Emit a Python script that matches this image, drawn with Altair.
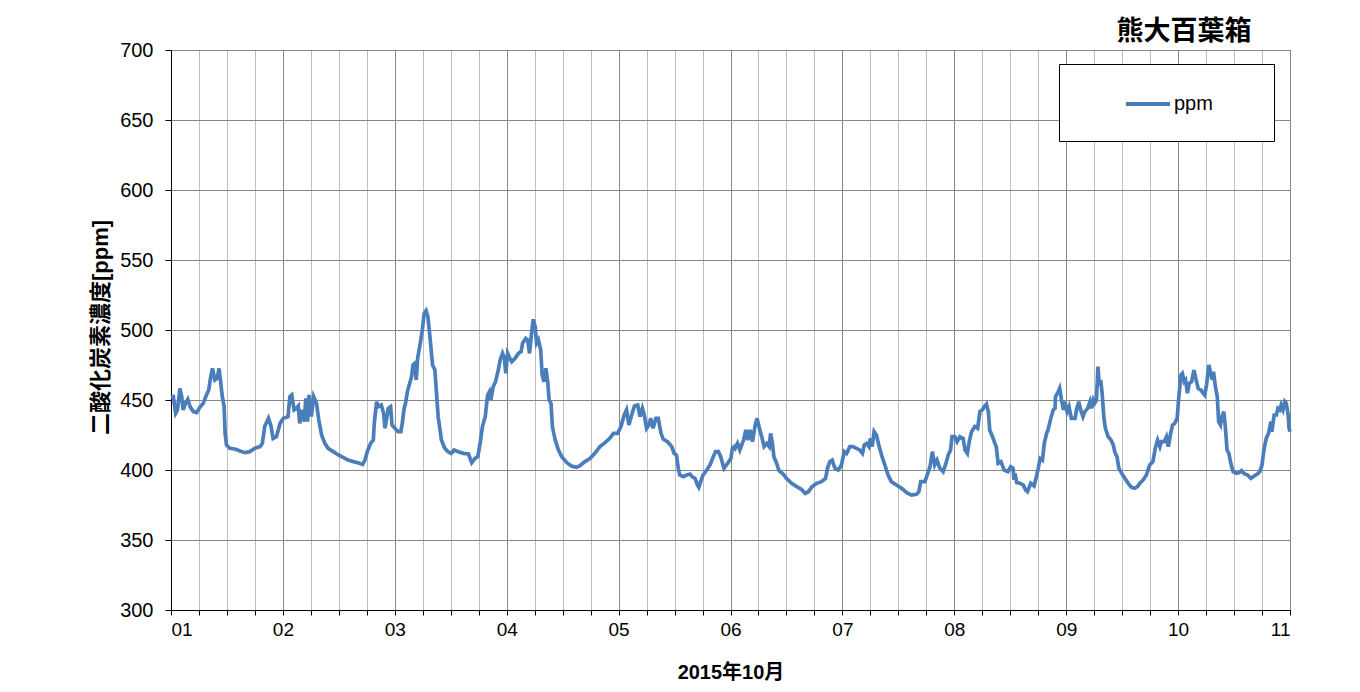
import altair as alt
import pandas as pd

# --- CO2 readings (hours since 2015-10-01 00:00, ppm) ---
seg1_hours = [0, 0.5, 1.0, 1.4, 1.9, 2.3, 2.6, 3.1, 3.6, 4.1, 4.8, 5.5, 6.2, 6.9, 7.6, 8.1, 8.4, 8.9,
              9.4, 9.9, 10.3, 10.6, 11.0, 11.4, 11.6, 11.9, 12.6, 13.7, 14.8, 15.9, 16.9, 18.0, 19.1,
              19.6, 20.1, 20.9, 21.4, 21.9, 22.6, 23.4, 24.1, 25.1, 25.5, 25.9, 26.4, 26.9, 27.3, 27.6,
              28.1, 28.6, 28.9, 29.3, 29.6, 30.1, 30.6, 31.2, 31.7, 32.3, 33.0, 33.7, 34.8, 35.9, 36.9,
              38.0, 39.1, 40.1, 41.1, 41.6, 42.1, 42.8, 43.4, 43.6, 44.1, 44.4, 45.1, 45.6, 45.9, 46.2,
              46.6, 47.1, 47.4, 48.0, 48.7, 49.3, 49.6, 50.0, 50.3, 50.7, 51.2, 51.6, 51.9, 52.3, 52.6,
              52.9, 53.4, 53.9, 54.3, 54.7, 55.1, 55.6, 56.1, 56.6, 56.9, 57.3, 57.6, 58.0, 58.7, 59.4,
              60.1, 60.7]
seg1_ppm = [452, 452.4, 440.5, 442.9, 458.3, 452.4, 442.9, 447.6, 450.5, 445.2, 441.7, 441.0, 444.8,
            447.6, 453.6, 457.1, 464.3, 472.6, 464.3, 465.5, 472.6, 464.3, 452.4, 445.2, 426.2, 417.9,
            415.5, 415.0, 413.6, 412.4, 413.1, 415.5, 416.7, 419.0, 431.0, 436.9, 432.1, 422.6, 423.8,
            433.3, 436.9, 438.1, 452.4, 453.6, 442.9, 444.0, 445.7, 433.3, 442.9, 434.5, 451.2, 434.5,
            453.6, 438.1, 452.4, 447.6, 435.7, 425.0, 419.0, 415.5, 413.1, 410.7, 409.0, 407.1, 406.0,
            405.2, 404.0, 407.1, 413.1, 419.0, 421.4, 433.3, 448.8, 445.2, 446.4, 440.5, 429.8, 435.7,
            444.0, 445.2, 432.1, 429.8, 427.4, 427.4, 433.3, 444.0, 447.6, 456.0, 461.9, 466.7, 475.0,
            476.2, 464.3, 479.8, 489.3, 500.0, 511.9, 513.8, 509.5, 492.9, 475.0, 471.4, 457.1, 438.1,
            431.0, 421.4, 415.5, 413.1, 411.9, 414.3]

seg2_hours = [61.6, 62.7, 63.8, 64.5, 65.2, 65.8, 66.3, 66.8, 67.4, 67.9, 68.3, 68.6, 69.1, 69.6, 70.2,
              70.6, 71.1, 71.5, 71.8, 72.2, 72.7, 73.1, 73.8, 74.5, 75.1, 75.4, 76.1, 76.5, 76.9, 77.4,
              77.7, 78.1, 78.4, 78.8, 79.3, 79.6, 80.0, 80.4, 80.8, 81.1, 81.5, 81.8, 82.4, 83.1, 83.8,
              84.9, 85.9, 87.0, 87.7, 88.8, 89.9, 90.9, 92.0, 93.1, 94.1, 94.9, 95.8, 96.5, 97.2, 97.7,
              98.2, 98.8, 99.4, 100.1, 100.6, 101.1, 101.5, 102.0, 102.5, 102.9, 103.4, 104.0, 104.5,
              105.1, 105.6, 106.5, 107.4, 107.9, 108.4, 108.8, 109.1, 109.9, 110.6, 111.3, 111.8, 112.4,
              112.9, 113.2, 113.6, 114.1, 114.9, 115.6, 116.3, 116.8, 117.4, 117.9, 118.6, 119.4, 120.1,
              120.4, 120.8]
seg2_ppm = [413.1, 411.9, 411.4, 405.2, 408.3, 409.5, 419.0, 431.0, 438.1, 453.6, 456.0, 450.0, 459.5,
            463.1, 471.4, 478.6, 483.3, 479.8, 469.0, 483.3, 479.8, 477.4, 479.8, 483.3, 484.5, 490.5,
            494.0, 492.9, 483.3, 500.0, 507.6, 502.4, 490.5, 492.9, 485.7, 467.9, 463.1, 472.6, 463.1,
            450.0, 447.6, 431.0, 421.4, 414.3, 409.5, 405.2, 402.9, 401.9, 403.1, 406.0, 408.3, 411.9,
            416.7, 419.5, 422.6, 426.2, 426.2, 431.0, 439.3, 442.9, 432.1, 439.3, 445.7, 446.4, 438.1,
            444.0, 439.3, 429.8, 432.1, 436.9, 429.8, 436.9, 436.9, 426.2, 421.9, 420.2, 416.7, 411.9,
            410.7, 401.2, 396.4, 395.2, 396.4, 397.1, 395.2, 394.0, 389.3, 387.6, 391.7, 396.4, 400.0,
            403.6, 409.5, 413.1, 413.1, 409.5, 401.2, 404.8, 408.3, 415.5, 416.7]

seg3_hours = [121.0, 121.5, 122.0, 122.8, 123.3, 123.7, 124.2, 124.7, 125.3, 125.7, 126.2, 126.7, 127.2,
              127.8, 128.3, 128.6, 129.0, 129.3, 129.9, 130.4, 131.3, 132.0, 133.1, 134.2, 135.2, 136.0,
              136.7, 137.5, 138.5, 139.5, 140.4, 140.8, 141.3, 141.8, 142.4, 143.1, 143.8, 144.4, 144.9,
              145.6, 146.3, 147.0, 147.7, 148.3, 148.7, 149.2, 149.7, 150.0, 150.4, 150.8, 151.3, 151.8,
              152.4, 153.1, 153.8, 154.5, 155.6, 156.7, 157.8, 158.8, 159.9, 160.4, 160.8, 161.7, 162.3,
              162.8, 163.3, 163.8, 164.3, 164.9, 165.6, 166.2, 166.7, 167.2, 167.5, 168.1, 168.6, 169.2,
              169.9, 170.3, 170.8, 171.2, 171.7, 172.4, 173.0, 173.5, 174.0, 174.4, 174.9, 175.3, 175.6,
              176.2, 176.7, 177.0, 177.4, 178.0, 178.7, 179.5, 180.1, 180.6, 180.8]
seg3_ppm = [415.5, 419.0, 414.3, 421.4, 428.6, 421.4, 428.6, 420.2, 432.1, 436.9, 429.8, 423.8, 416.7,
            419.0, 416.7, 426.2, 419.0, 409.5, 404.8, 399.5, 397.1, 394.0, 390.5, 388.1, 386.2, 383.3,
            384.5, 388.1, 390.5, 391.7, 394.0, 401.2, 406.0, 407.1, 401.2, 400.0, 403.6, 413.1, 411.9,
            416.7, 416.7, 415.5, 414.3, 411.9, 417.9, 419.0, 416.7, 422.6, 416.7, 427.4, 425.0, 417.9,
            410.7, 403.6, 396.4, 391.7, 389.3, 386.9, 383.8, 382.1, 382.6, 384.5, 391.7, 391.7, 397.6,
            402.4, 413.1, 403.6, 407.1, 401.2, 398.8, 404.8, 410.7, 414.3, 423.8, 423.8, 420.2, 423.8,
            422.6, 414.3, 411.9, 420.2, 427.4, 431.0, 429.8, 441.7, 442.9, 445.2, 447.1, 441.7, 428.6,
            423.8, 419.0, 416.7, 404.8, 406.0, 400.0, 398.8, 402.4, 401.2, 392.9]

seg4_hours = [181.0, 181.4, 182.1, 182.8, 183.3, 183.7, 184.4, 185.1, 185.6, 186.0, 186.4, 186.9, 187.3,
              187.8, 188.1, 188.7, 189.2, 189.6, 189.7, 190.3, 190.6, 191.0, 191.4, 191.7, 192.2, 192.6,
              193.1, 193.9, 194.2, 194.7, 195.1, 195.6, 196.0, 196.6, 197.1, 197.4, 197.8, 198.1, 198.5,
              198.8, 199.1, 199.4, 199.7, 200.1, 200.4, 201.0, 201.6, 202.1, 202.4, 202.9, 203.3, 203.9,
              204.6, 205.3, 206.0, 206.7, 207.3, 207.8, 208.5, 209.2, 209.9, 210.6, 211.1, 211.6, 212.1,
              212.4, 213.0, 213.5, 213.9, 214.4, 214.8, 215.3, 215.8, 216.1, 216.6, 216.9, 217.3, 217.6,
              218.0, 218.4, 218.9, 219.4, 219.8, 220.3, 220.9, 221.4, 221.7, 222.1, 222.6, 223.0, 223.3,
              223.6, 224.0, 224.4, 224.7, 225.1, 225.4, 225.8, 226.1, 226.5, 226.9, 227.3, 227.8, 228.5,
              229.1, 229.6, 230.1, 230.9, 231.6, 232.3, 233.0, 233.5, 234.0, 234.4, 234.9, 235.4, 235.9,
              236.1, 236.6, 237.1, 237.4, 237.8, 238.1, 238.5, 238.9, 239.2, 239.6, 239.8, 240.0]
seg4_ppm = [397.6, 391.0, 390.5, 389.3, 385.7, 384.5, 390.5, 388.6, 395.2, 401.2, 408.3, 407.1, 419.0,
            426.2, 428.6, 436.9, 442.9, 444.0, 452.4, 456.0, 458.3, 450.0, 442.9, 448.8, 441.7, 445.2,
            436.9, 436.9, 442.9, 448.8, 442.9, 438.1, 441.7, 444.0, 448.8, 444.0, 450.0, 447.6, 450.0,
            473.8, 460.7, 464.3, 454.8, 436.9, 429.8, 423.8, 421.4, 417.9, 413.1, 409.5, 401.2, 397.6,
            394.0, 390.5, 387.6, 386.9, 388.1, 390.5, 392.9, 396.4, 403.6, 406.0, 415.5, 421.4, 416.7,
            420.2, 420.2, 423.8, 416.7, 426.2, 432.1, 433.3, 436.9, 450.0, 467.9, 469.0, 463.1, 464.3,
            454.8, 461.9, 463.1, 471.4, 465.5, 458.3, 457.1, 454.8, 453.6, 460.7, 475.0, 469.0, 464.3,
            470.2, 459.5, 452.4, 434.5, 432.1, 438.1, 441.7, 432.1, 414.3, 411.9, 404.8, 398.8, 397.6,
            398.1, 399.5, 397.6, 396.4, 394.0, 395.7, 397.1, 398.8, 403.6, 414.3, 422.6, 426.2, 434.5,
            427.4, 439.3, 439.3, 444.0, 442.9, 446.4, 442.9, 448.8, 447.6, 439.3, 429.8, 427.4]

series_name = "ppm"
minor_ticks = [h for h in range(0, 241, 6) if h % 24 != 0]
day_ticks = list(range(0, 241, 24))
y_ticks = list(range(300, 701, 50))

hours = seg1_hours + seg2_hours + seg3_hours + seg4_hours
ppm = seg1_ppm + seg2_ppm + seg3_ppm + seg4_ppm
df = pd.DataFrame({"hour": hours, "ppm": ppm, "series": series_name})

FONT = "Liberation Sans, Noto Sans CJK JP"
xs = alt.Scale(domain=[0, 240], nice=False, zero=False)
ys = alt.Scale(domain=[300, 700], nice=False, zero=False)

y_axis = alt.Axis(values=y_ticks, grid=True, gridColor="#868686", gridWidth=1,
                  domainColor="black", tickColor="black", tickSize=6,
                  labelFontSize=20, labelColor="black", labelPadding=12, labelFont=FONT,
                  title="二酸化炭素濃度[ppm]", titleFont=FONT, titleFontSize=22,
                  titleFontWeight="bold", titleColor="black", titleAngle=270,
                  titleX=-71, titleY=277, titleAlign="center", titleBaseline="middle")

minor = alt.Chart(df).mark_line(opacity=0).encode(
    x=alt.X("hour:Q", scale=xs, axis=alt.Axis(
        values=minor_ticks, orient="bottom", labels=False, grid=True, gridColor="#BEBEBE",
        gridWidth=1, ticks=True, tickColor="black", tickSize=5, domainColor="black", title=None)),
    y=alt.Y("ppm:Q", scale=ys, axis=y_axis),
)

pad = "\u00a0" * 6 + "\u200b"
major = alt.Chart(df).mark_line(strokeWidth=3.7).encode(
    x=alt.X("hour:Q", scale=xs, axis=alt.Axis(
        values=day_ticks, orient="bottom", grid=True, gridColor="#868686", gridWidth=1,
        tickColor="black", tickSize=5, domainColor="black",
        labelExpr="(datum.value/24+1) < 10 ? '0' + (datum.value/24+1) : '' + (datum.value/24+1)",
        labelFontSize=19, labelColor="black", labelPadding=5, labelFont=FONT,
        title="2015年10月", titleFont=FONT, titleFontSize=20, titleFontWeight="bold",
        titleColor="black", titleY=62, titleBaseline="middle")),
    y=alt.Y("ppm:Q", scale=ys, axis=y_axis),
    color=alt.Color("series:N", scale=alt.Scale(range=["#4A7EBB"]), legend=alt.Legend(
        orient="none", legendX=888, legendY=14, title=None,
        fillColor="white", strokeColor="black", padding=27,
        symbolType="M-3,0L1,0", symbolSize=484, symbolStrokeWidth=4, symbolOffset=60,
        symbolFillColor="transparent",
        labelFontSize=20, labelFont=FONT, labelColor="black", labelOffset=2,
        labelExpr="datum.label + '" + pad + "'")),
)

chart = alt.layer(minor, major).resolve_axis(x="independent").resolve_scale(x="shared").properties(
    width=1119, height=560,
    autosize=alt.AutoSizeParams(type="none"),
    padding={"left": 163, "top": 42, "right": 62, "bottom": 74},
    title=alt.TitleParams("熊大百葉箱", anchor="end", fontSize=27, fontWeight="bold",
                          font="Noto Sans CJK JP", color="black", dx=-46, dy=12, offset=6),
    background="white",
).configure_view(stroke="black", strokeWidth=1)

chart.save("out.html", embed_options={"renderer": "svg", "actions": False})
